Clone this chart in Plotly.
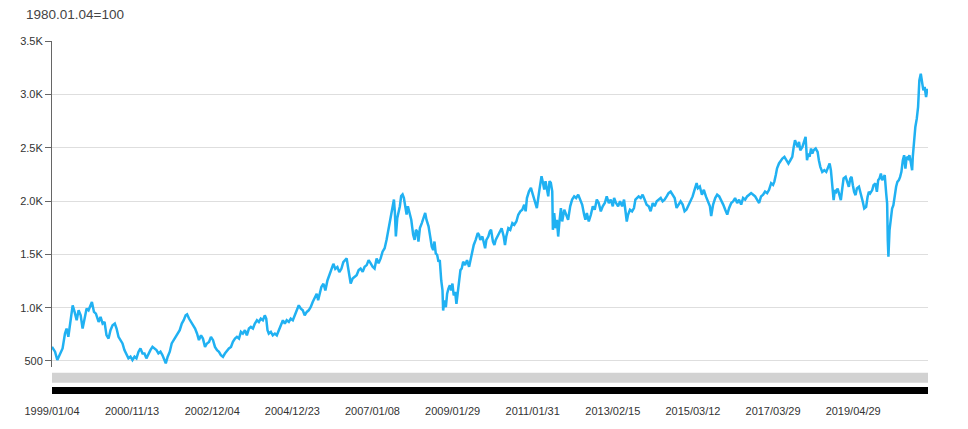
import plotly.graph_objects as go

# KOSPI close, sampled by trading session counted from 1999/01/04
session = [
    0, 19, 33, 50, 66, 81, 91, 102, 116, 129, 141, 154, 166, 179, 191, 203, 216, 228, 241, 249,
    262, 274, 291, 303, 316, 328, 340, 353, 365, 378, 392, 403, 415, 428, 440, 452, 465, 477, 490, 502,
    515, 527, 540, 552, 565, 577, 589, 602, 614, 627, 639, 652, 664, 677, 689, 702, 710, 722, 735, 747,
    760, 772, 785, 797, 810, 822, 834, 843, 855, 868, 880, 893, 905, 917,
    930, 942, 955, 967, 980, 992, 1005, 1017, 1030, 1042, 1054, 1067, 1079, 1092, 1104, 1117, 1129, 1142, 1154, 1167,
    1179, 1191, 1204, 1216, 1229, 1241, 1254, 1266, 1279, 1291, 1303, 1316, 1328, 1337, 1345, 1353, 1366, 1378, 1391, 1403,
    1416, 1428, 1441, 1453, 1465, 1478, 1490, 1503, 1515, 1528, 1540, 1553, 1565, 1577, 1590, 1602, 1615, 1627, 1640, 1652,
    1661, 1669, 1681, 1694, 1706, 1719, 1731, 1744, 1756, 1768, 1781, 1793, 1806, 1818, 1829,
    1839, 1847, 1856, 1864, 1876, 1889, 1901, 1914, 1926, 1939, 1951, 1964, 1976, 1989, 2001, 2013, 2026, 2038, 2051, 2063,
    2076, 2088, 2101, 2109, 2117, 2126, 2134, 2140, 2146, 2155, 2163, 2171, 2179, 2188, 2196, 2204, 2213, 2221, 2229, 2242,
    2254, 2263, 2271, 2279, 2287, 2296, 2308, 2321, 2329, 2337, 2350, 2362, 2370, 2379, 2387, 2395, 2404, 2412, 2420, 2429,
    2437, 2441, 2449, 2458, 2466, 2474, 2483, 2491, 2499, 2507, 2516, 2524, 2532, 2541, 2549, 2557, 2566, 2578, 2590, 2603,
    2615, 2624, 2632, 2644, 2657, 2665, 2673, 2686, 2694, 2703, 2711, 2723, 2732, 2740,
    2752, 2761, 2769, 2781, 2794, 2806, 2819, 2827, 2835, 2848, 2860, 2873, 2885, 2898, 2910, 2923, 2935, 2947, 2956, 2964,
    2977, 2989, 3001, 3014, 3026, 3039, 3047, 3055, 3064, 3072, 3080, 3089, 3097, 3105, 3113, 3122, 3126, 3134, 3143, 3151,
    3159, 3167, 3176, 3184, 3197, 3209, 3221, 3234, 3246, 3259, 3271, 3284, 3296, 3309, 3321, 3329, 3338, 3350, 3363, 3375,
    3387, 3400, 3412, 3425, 3437, 3450, 3462, 3475, 3487, 3500, 3508, 3520, 3533, 3545, 3558, 3570, 3578, 3587, 3595, 3607,
    3620, 3632, 3641, 3649,
    3661, 3674, 3686, 3699, 3711, 3724, 3736, 3749, 3761, 3774, 3786, 3799, 3811, 3823, 3836, 3848, 3861, 3873, 3886, 3898,
    3911, 3923, 3936, 3948, 3960, 3973, 3985, 3998, 4010, 4023, 4031, 4043, 4056, 4068, 4081, 4093, 4106, 4114, 4126, 4139,
    4151, 4164, 4176, 4189, 4201, 4214, 4226, 4239, 4251, 4263, 4276, 4288, 4301, 4313, 4326, 4338, 4351, 4363, 4376, 4388,
    4400, 4413, 4425, 4438, 4450, 4463, 4475, 4488, 4500, 4508, 4517, 4525, 4537, 4550, 4558,
    4571, 4583, 4596, 4608, 4620, 4629, 4637, 4645, 4654, 4662, 4670, 4683, 4695, 4703, 4712, 4720, 4728, 4737, 4745, 4753,
    4766, 4778, 4786, 4795, 4807, 4820, 4832, 4845, 4853, 4861, 4869, 4878, 4886, 4894, 4903, 4911, 4923, 4932, 4940, 4953,
    4965, 4973, 4982, 4990, 4998, 5006, 5015, 5023, 5036, 5048, 5060, 5069, 5081, 5090, 5098, 5106, 5119, 5127, 5139, 5148,
    5156, 5164, 5173, 5181, 5189, 5197, 5206, 5212, 5216, 5220, 5227, 5235, 5243, 5251, 5260, 5268, 5276, 5285, 5293, 5301,
    5310, 5318, 5326, 5334, 5343, 5351, 5359, 5368, 5372, 5380, 5388, 5397, 5405, 5409, 5413, 5422, 5430, 5438, 5446, 5455,
    5463,
]
kospi = [
    633, 587, 509, 571, 618, 758, 804, 727, 882, 1022, 960, 882, 975, 929, 804, 882, 991, 975, 1022, 1053,
    960, 944, 866, 913, 851, 866, 742, 711, 789, 835, 851, 804, 727, 696, 665, 602, 556, 525, 540, 509,
    540, 525, 587, 618, 571, 571, 525, 571, 602, 633, 618, 602, 571, 587, 556, 509, 478, 540, 587, 665,
    696, 727, 758, 789, 851, 882, 929, 938, 898, 866, 835, 804, 758, 696,
    741, 710, 632, 664, 679, 726, 695, 632, 601, 586, 555, 539, 570, 601, 617, 632, 679, 710, 726, 710,
    773, 757, 788, 741, 804, 819, 804, 850, 882, 866, 897, 882, 928, 897, 788, 757, 773, 741, 757, 741,
    788, 835, 882, 850, 882, 866, 897, 882, 928, 975, 1022, 991, 975, 928, 960, 975, 1006, 1053, 1100, 1131,
    1069, 1115, 1193, 1224, 1162, 1255, 1302, 1349, 1411, 1364, 1380, 1333, 1364, 1427, 1449,
    1462, 1383, 1289, 1226, 1273, 1289, 1304, 1352, 1367, 1336, 1383, 1399, 1446, 1415, 1383, 1367, 1462, 1415, 1462, 1525,
    1557, 1636, 1746, 1809, 1872, 1983, 2014, 1888, 1667, 1841, 1888, 1951, 2046, 2062, 2030, 1951, 1872, 1951, 1904, 1825,
    1683, 1636, 1730, 1714, 1620, 1746, 1793, 1856, 1888, 1825, 1762, 1651, 1573, 1541, 1620, 1509, 1494, 1431, 1446, 1257,
    1162, 973, 1068, 1005, 1131, 1178, 1210, 1162, 1226, 1115, 1147, 1036, 1131, 1241, 1352, 1367, 1431, 1399, 1446, 1383,
    1462, 1541, 1588, 1636, 1699, 1683, 1636, 1667, 1604, 1557, 1636, 1667, 1714, 1730,
    1619, 1588, 1635, 1667, 1714, 1745, 1667, 1588, 1667, 1745, 1730, 1792, 1777, 1808, 1871, 1903, 1918, 1965, 1903, 2028,
    2091, 2123, 2060, 1981, 1934, 2075, 2154, 2233, 2170, 2107, 2186, 2107, 2044, 2186, 2170, 2091, 1730, 1887, 1745, 1824,
    1667, 1808, 1934, 1808, 1918, 1871, 1824, 1950, 2013, 2044, 2028, 2060, 2013, 1965, 1871, 1824, 1887, 1808, 1871, 1950,
    1918, 2013, 1981, 1903, 1950, 1981, 2044, 1981, 2013, 1950, 2028, 1981, 1950, 1997, 1950, 2013, 1918, 1808, 1871, 1918,
    1903, 1934, 2013, 2028,
    2043, 2028, 2059, 2012, 1966, 1951, 1904, 1981, 1951, 1997, 2012, 2028, 1997, 2012, 2043, 2074, 2089, 2059, 2028, 1935,
    1966, 1997, 1966, 1904, 1920, 1966, 1997, 2043, 2105, 2167, 2120, 2136, 2059, 2105, 2043, 1997, 1951, 1858, 1966, 2028,
    2059, 2043, 2012, 1966, 1920, 1873, 1935, 1981, 1997, 2028, 1981, 2012, 1966, 2028, 2012, 2043, 2059, 2074, 2059, 2043,
    2012, 1981, 2043, 2059, 2089, 2074, 2105, 2167, 2151, 2182, 2244, 2306, 2352, 2383, 2398,
    2414, 2382, 2351, 2382, 2414, 2507, 2570, 2538, 2507, 2554, 2476, 2507, 2570, 2601, 2382, 2445, 2414, 2492, 2445, 2476,
    2492, 2460, 2382, 2320, 2273, 2289, 2273, 2320, 2351, 2289, 2133, 2008, 2102, 2086, 2117, 2071, 2008, 2117, 2211, 2226,
    2164, 2133, 2211, 2226, 2148, 2086, 2055, 2117, 2133, 2071, 1993, 1930, 1946, 2039, 2086, 2071, 2102, 2148, 2164, 2086,
    2195, 2211, 2258, 2195, 2226, 2242, 2071, 1977, 1634, 1478, 1728, 1868, 1930, 1961, 2071, 2133, 2180, 2195, 2226, 2273,
    2382, 2429, 2304, 2414, 2398, 2429, 2367, 2289, 2414, 2601, 2694, 2772, 2881, 3006, 3131, 3193, 3100, 3037, 3069, 2975,
    3053,
]

tick_dates = ["1999/01/04", "2000/11/13", "2002/12/04", "2004/12/23", "2007/01/08", "2009/01/29",
              "2011/01/31", "2013/02/15", "2015/03/12", "2017/03/29", "2019/04/29"]
label_every = 500
last_session = 5467

y_ticks = [500, 1000, 1500, 2000, 2500, 3000, 3500]
y_labels = ["500", "1.0K", "1.5K", "2.0K", "2.5K", "3.0K", "3.5K"]

fig = go.Figure()
fig.add_trace(go.Scatter(x=session, y=kospi, mode="lines",
                         line=dict(color="#20b1f2", width=2.5)))

# the page body adds 8px around the figure, margins account for it
fig.update_layout(
    width=968, height=429,
    margin=dict(l=42, r=48, t=33, b=47),
    plot_bgcolor="white", paper_bgcolor="white",
    showlegend=False,
    font=dict(family="Liberation Sans, Arial", size=11, color="#333"),
    xaxis=dict(range=[0, last_session], anchor="free", position=0,
               tickvals=[i * label_every for i in range(len(tick_dates))],
               ticktext=tick_dates, showgrid=False, zeroline=False,
               showline=True, linecolor="black", linewidth=7, ticks="",
               ticklabelstandoff=8),
    yaxis=dict(domain=[0.066, 1], range=[444, 3500],
               tickvals=y_ticks, ticktext=y_labels,
               showgrid=True, gridcolor="#dedede", gridwidth=1, zeroline=False,
               showline=True, linecolor="#666", linewidth=1,
               ticks="outside", ticklen=6, tickcolor="#666"),
)

# grey band between the plot and the axis bar
fig.add_shape(type="rect", xref="paper", yref="paper", x0=0, x1=1,
              y0=0.021, y1=0.0496, fillcolor="#d2d2d2", line_width=0, layer="below")

fig.add_annotation(text="1980.01.04=100", xref="paper", yref="paper",
                   x=-0.0319, y=1.0745, xanchor="left", yanchor="middle",
                   showarrow=False, font=dict(size=13.5, color="#444"))

fig.write_html("out.html")
